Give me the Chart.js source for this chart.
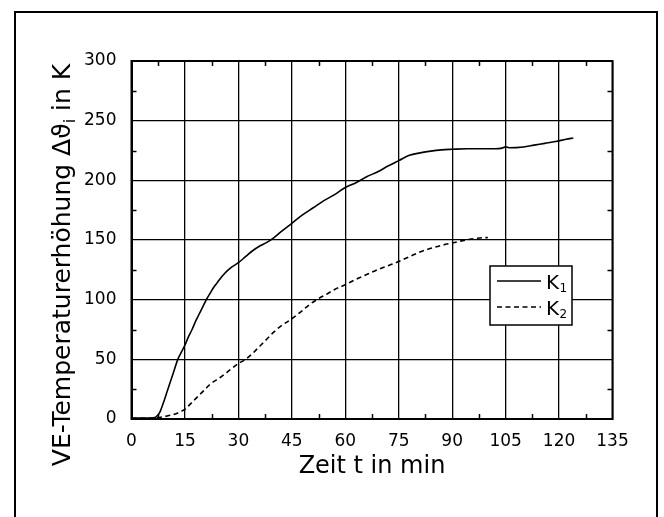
<!DOCTYPE html>
<html>
<head>
<meta charset="utf-8">
<script src="https://cdn.jsdelivr.net/npm/chart.js"></script>
<style>
  html, body { margin: 0; padding: 0; background: #fff; }
  #wrap { width: 664px; height: 517px; position: relative; }
</style>
</head>
<body>
<div id="wrap"><canvas id="tempChart"></canvas></div>
<script>
// VE-Temperaturerhöhung über der Zeit, Kurven K1 und K2

const k1Time = [0, 4, 6, 7, 8, 9, 10, 11, 12, 13, 14, 15, 16, 17, 18, 19, 20, 21, 22, 23, 24, 25, 26, 27, 28,
  30, 32, 34, 36, 38, 40, 42, 45, 48, 51, 54, 57, 60, 63, 66, 69, 72, 75, 78, 81, 84, 87, 90,
  94, 98, 102, 104, 105, 106, 110, 113, 116, 119, 122, 124];
const k1Temp = [0.8, 0.8, 1, 2, 6, 14, 23, 32, 41, 50, 56, 62, 69, 75, 82, 88, 94, 100, 105, 110, 114, 118, 121.5, 124.5, 127,
  131, 136, 141, 145, 148, 152, 157, 164, 171, 177, 183, 188, 194, 198, 203, 207, 212, 216.5, 221, 223, 224.5, 225.5, 226,
  226.5, 226.5, 226.5, 227, 228, 227.3, 228, 229.5, 231, 232.5, 234.5, 235.5];

const k2Time = [0, 5, 7, 10, 12, 14, 15, 16, 17, 19, 21, 22, 25, 28, 30, 32, 34, 36, 38, 40, 42, 45, 48, 50, 52, 55, 57,
  60, 63, 66, 69, 72, 75, 78, 81, 84, 87, 90, 93, 96, 99, 100];
const k2Temp = [0.5, 0.5, 1, 2.5, 4, 6.5, 8, 11, 14, 20, 26, 29, 35, 42, 46.5, 50, 55, 61, 67, 73, 78, 84, 91, 96, 100, 105, 108.5,
  112.5, 117, 121, 125, 128.5, 132, 136, 140, 143, 145.5, 147.5, 149.5, 151, 152, 152];

const xTickValues = [0, 15, 30, 45, 60, 75, 90, 105, 120, 135];
const yTickValues = [0, 50, 100, 150, 200, 250, 300];
const seriesSubs = ["1", "2"];

const FONT = "DejaVu Sans";

const toPoints = (xs, ys) => xs.map((t, i) => ({ x: t, y: ys[i] }));
const midpoints = arr => arr.slice(1).map((v, i) => (v + arr[i]) / 2);

const decorPlugin = {
  id: "decor",
  beforeDraw(chart) {
    const c = chart.ctx;
    c.save();
    c.fillStyle = "#fff";
    c.fillRect(0, 0, chart.width, chart.height);
    // outer frame (open at the bottom)
    c.strokeStyle = "#000";
    c.lineWidth = 2;
    c.beginPath();
    c.moveTo(15, chart.height);
    c.lineTo(15, 12);
    c.lineTo(657, 12);
    c.lineTo(657, chart.height);
    c.stroke();

    // y axis title with subscript
    c.fillStyle = "#000";
    c.translate(70, 265);
    c.rotate(-Math.PI / 2);
    c.textBaseline = "alphabetic";
    c.textAlign = "left";
    const big = "25px '" + FONT + "'";
    const small = "16px '" + FONT + "'";
    const p1 = "VE-Temperaturerhöhung Δϑ", p2 = "i", p3 = " in K";
    c.font = big;
    const w1 = c.measureText(p1).width, w3 = c.measureText(p3).width;
    c.font = small;
    const w2 = c.measureText(p2).width;
    let x0 = -(w1 + w2 + w3) / 2;
    c.font = big;
    c.fillText(p1, x0, 0);
    c.font = small;
    c.fillText(p2, x0 + w1, 5);
    c.font = big;
    c.fillText(p3, x0 + w1 + w2, 0);
    c.restore();
  },
  beforeDatasetsDraw(chart) {
    const { ctx: c, chartArea: a, scales: { x, y } } = chart;
    c.save();
    c.strokeStyle = "#000";
    c.lineWidth = 2;
    c.strokeRect(a.left, a.top, a.right - a.left, a.bottom - a.top);
    // small inner ticks between the grid lines
    c.lineWidth = 1.5;
    c.beginPath();
    midpoints(xTickValues).forEach(v => {
      const px = Math.round(x.getPixelForValue(v)) + 0.5;
      c.moveTo(px, a.bottom); c.lineTo(px, a.bottom - 5);
      c.moveTo(px, a.top); c.lineTo(px, a.top + 5);
    });
    midpoints(yTickValues).forEach(v => {
      const py = Math.round(y.getPixelForValue(v)) + 0.5;
      c.moveTo(a.left, py); c.lineTo(a.left + 5, py);
      c.moveTo(a.right, py); c.lineTo(a.right - 5, py);
    });
    c.stroke();
    c.restore();
  },
  afterDraw(chart) {
    const c = chart.ctx;
    c.save();
    // legend box
    c.fillStyle = "#fff";
    c.fillRect(490, 266, 82, 59);
    c.strokeStyle = "#000";
    c.lineWidth = 1.5;
    c.strokeRect(490, 266, 82, 59);
    chart.data.datasets.forEach((ds, i) => {
      const ly = 281 + i * 26;
      c.beginPath();
      c.lineWidth = 1.6;
      c.setLineDash(ds.borderDash || []);
      c.moveTo(497, ly);
      c.lineTo(541, ly);
      c.stroke();
      c.setLineDash([]);
      c.fillStyle = "#000";
      c.textBaseline = "alphabetic";
      c.textAlign = "left";
      c.font = "20px '" + FONT + "'";
      c.fillText("K", 546, ly + 8);
      c.font = "12px '" + FONT + "'";
      c.fillText(seriesSubs[i], 559.5, ly + 11);
    });
    c.restore();
  }
};

document.addEventListener("DOMContentLoaded", () => {
  const ctx = document.getElementById("tempChart").getContext("2d");

  const tempChart = new Chart(ctx, {
    type: "line",
    data: {
      datasets: [{
        label: "K1",
        data: toPoints(k1Time, k1Temp),
        borderColor: "#000",
        borderWidth: 1.6,
        pointRadius: 0,
        fill: false,
        cubicInterpolationMode: "monotone"
      }, {
        label: "K2",
        data: toPoints(k2Time, k2Temp),
        borderColor: "#000",
        borderWidth: 1.6,
        borderDash: [5, 3.5],
        pointRadius: 0,
        fill: false,
        cubicInterpolationMode: "monotone"
      }]
    },
    options: {
      responsive: true,
      maintainAspectRatio: false,
      animation: false,
      layout: { padding: { left: 0, right: 51.5, top: 61, bottom: 0 } },
      plugins: {
        legend: { display: false },
        tooltip: { enabled: false }
      },
      scales: {
        x: {
          type: "linear",
          min: 0,
          max: 135,
          afterBuildTicks: axis => { axis.ticks = xTickValues.map(v => ({ value: v })); },
          afterFit: axis => { axis.height = 98; },
          grid: { color: "#000", lineWidth: 1.3, drawTicks: false },
          border: { display: true, color: "#000", width: 2 },
          ticks: {
            color: "#000",
            font: { family: FONT, size: 17 },
            padding: 12,
            maxRotation: 0,
            autoSkip: false
          },
          title: {
            display: true,
            text: "Zeit t in min",
            color: "#000",
            font: { family: FONT, size: 24 },
            padding: { top: 0, bottom: 36 }
          }
        },
        y: {
          min: 0,
          max: 300,
          afterBuildTicks: axis => { axis.ticks = yTickValues.map(v => ({ value: v })); },
          afterFit: axis => { axis.width = 131.5; },
          grid: { color: "#000", lineWidth: 1.3, drawTicks: false },
          border: { display: true, color: "#000", width: 2 },
          ticks: {
            color: "#000",
            font: { family: FONT, size: 17 },
            padding: 15
          }
        }
      }
    },
    plugins: [decorPlugin]
  });
});
</script>
</body>
</html>
